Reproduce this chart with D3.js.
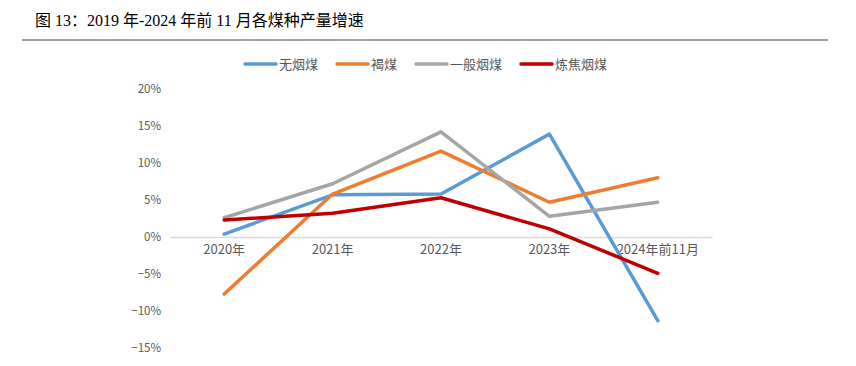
<!DOCTYPE html>
<html><head><meta charset="utf-8">
<script src="https://cdn.jsdelivr.net/npm/d3@7"></script>
<style>body{margin:0;background:#fff;}svg{display:block;}</style>
</head><body>
<svg id="c" width="856" height="366"></svg>
<script>
const categories = ["2020年","2021年","2022年","2023年","2024年前11月"];
const seriesNames = ["无烟煤","褐煤","一般烟煤","炼焦烟煤"];
const anthracite = [0.4, 5.7, 5.8, 13.9, -11.3];
const lignite = [-7.7, 5.8, 11.6, 4.7, 8.0];
const generalBituminous = [2.6, 7.2, 14.2, 2.8, 4.7];
const cokingCoal = [2.3, 3.2, 5.3, 1.1, -4.9];
const yTicks = [20, 15, 10, 5, 0, -5, -10, -15];
const colors = ["#5B9BD5","#ED7D31","#A5A5A5","#C00000"];
const seriesData = [anthracite, lignite, generalBituminous, cokingCoal];

const svg = d3.select("#c");
const serif = "'Liberation Serif','Times New Roman','Noto Sans CJK SC',serif";
const cjk = "'Noto Sans CJK SC',sans-serif";

svg.append("text").attr("x",35).attr("y",26).attr("font-family",serif)
  .attr("font-size",16).attr("fill","#000").text("图 13：2019 年-2024 年前 11 月各煤种产量增速");
svg.append("line").attr("x1",22).attr("x2",828).attr("y1",40).attr("y2",40)
  .attr("stroke","#808080").attr("stroke-width",1.5);

const x = d3.scaleBand().domain(categories).range([170,712]);
const y = d3.scaleLinear().domain([-15,20]).range([348,89]);

// y labels
const yAxis = d3.axisLeft(y).tickValues(yTicks).tickSize(0).tickPadding(0)
  .tickFormat(d=>(d<0?"−"+(-d):d)+"%");
const gy = svg.append("g").attr("transform","translate(161,0)").call(yAxis);
gy.select(".domain").remove();
gy.selectAll("text").attr("font-family",cjk).attr("font-size",11.5).attr("fill","#595959");

// x axis at 0
const xAxis = d3.axisBottom(x).tickSize(0).tickPadding(8);
const gx = svg.append("g").attr("transform",`translate(0,${y(0)})`).call(xAxis);
gx.select(".domain").attr("stroke","#D9D9D9").attr("stroke-width",1.5);
gx.selectAll("text").attr("font-family",cjk).attr("font-size",13).attr("fill","#595959");

const line = d3.line().x((d,i)=>x(categories[i])+x.bandwidth()/2).y(d=>y(d));
seriesData.forEach((s,k)=>{
  svg.append("path").datum(s).attr("d",line).attr("fill","none")
    .attr("stroke",colors[k]).attr("stroke-width",3.5).attr("stroke-linejoin","round").attr("stroke-linecap","round");
});

// legend
const legX = [245, 337, 416, 521];
seriesNames.forEach((n,k)=>{
  svg.append("line").attr("x1",legX[k]).attr("x2",legX[k]+31).attr("y1",64).attr("y2",64)
    .attr("stroke",colors[k]).attr("stroke-width",3.5).attr("stroke-linecap","round");
  svg.append("text").attr("x",legX[k]+34).attr("y",68.5).attr("font-family",serif)
    .attr("font-size",13).attr("fill","#595959").text(n);
});
</script>
</body></html>
